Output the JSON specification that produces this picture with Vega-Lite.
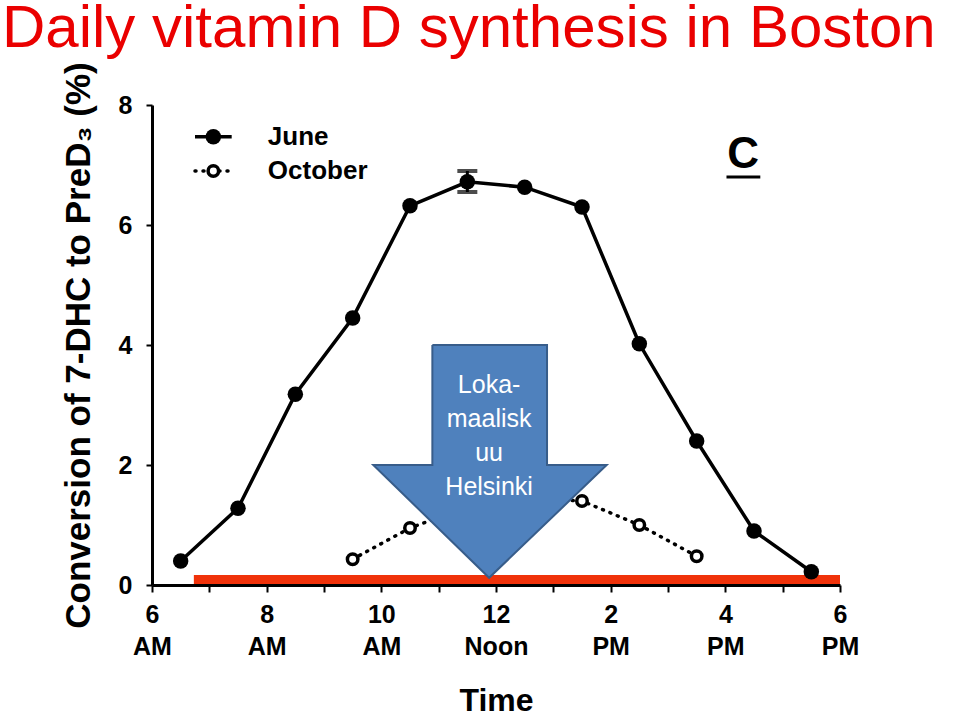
{
  "$schema": "https://vega.github.io/schema/vega-lite/v6.json",
  "width": 688,
  "height": 480,
  "autosize": "none",
  "padding": {"left": 152, "top": 105, "right": 120, "bottom": 133},
  "background": "white",
  "config": {"font": "Liberation Sans", "view": {"stroke": null}},
  "title": {
    "text": "Daily vitamin D synthesis in Boston",
    "anchor": "start",
    "frame": "group",
    "dx": -150,
    "dy": 19,
    "offset": 21,
    "font": "Liberation Sans",
    "fontSize": 60,
    "fontWeight": "normal",
    "color": "#EA0000"
  },
  "datasets": {
    "june": [
      {"x": 6.5, "y": 0.4}, {"x": 7.5, "y": 1.28}, {"x": 8.5, "y": 3.18}, {"x": 9.5, "y": 4.45},
      {"x": 10.5, "y": 6.32}, {"x": 11.5, "y": 6.72}, {"x": 12.5, "y": 6.63}, {"x": 13.5, "y": 6.3},
      {"x": 14.5, "y": 4.02}, {"x": 15.5, "y": 2.4}, {"x": 16.5, "y": 0.9}, {"x": 17.5, "y": 0.22}
    ],
    "october": [
      {"x": 9.5, "y": 0.43}, {"x": 10.5, "y": 0.95}, {"x": 11.5, "y": 1.3}, {"x": 12.5, "y": 1.45},
      {"x": 13.5, "y": 1.4}, {"x": 14.5, "y": 1.0}, {"x": 15.5, "y": 0.48}
    ],
    "errbar": [{"x": 11.5, "y": 6.55, "y2": 6.9}],
    "errcaps": [{"x": 11.5, "y": 6.55}, {"x": 11.5, "y": 6.9}],
    "redbar": [{"x": 6.73, "x2": 18.0, "y": 0.09}],
    "arrow": [
      {"i": 0, "x": 10.89, "y": 4.0}, {"i": 1, "x": 12.89, "y": 4.0}, {"i": 2, "x": 12.89, "y": 2.0},
      {"i": 3, "x": 13.93, "y": 2.0}, {"i": 4, "x": 11.88, "y": 0.12}, {"i": 5, "x": 9.86, "y": 2.0},
      {"i": 6, "x": 10.89, "y": 2.0}, {"i": 7, "x": 10.89, "y": 4.0}
    ],
    "arrowtext": [{"x": 11.88, "y": 3.33, "label": ["Loka-", "maalisk", "uu", "Helsinki"]}],
    "legline": [
      {"x": 6.75, "x2": 7.39, "y": 7.47, "series": "June"},
      {"x": 6.75, "x2": 7.39, "y": 6.9, "series": "October"}
    ],
    "legtext": [
      {"x": 8.02, "y": 7.47, "label": "June"},
      {"x": 8.02, "y": 6.9, "label": "October"}
    ],
    "panel": [{"x": 16.31, "y": 7.17, "label": "C"}],
    "underline": [{"x": 16.02, "x2": 16.61, "y": 6.8}]
  },
  "encoding": {
    "x": {
      "field": "x",
      "type": "quantitative",
      "scale": {"domain": [6, 18], "nice": false, "zero": false},
      "axis": {
        "title": "Time",
        "titleFontSize": 32,
        "titleFontWeight": "bold",
        "titleColor": "black",
        "titlePadding": 26,
        "values": [6, 7, 8, 9, 10, 11, 12, 13, 14, 15, 16, 17, 18],
        "labelExpr": "datum.value % 2 == 0 ? [datum.value <= 12 ? format(datum.value, 'd') : format(datum.value - 12, 'd'), datum.value < 12 ? 'AM' : (datum.value == 12 ? 'Noon' : 'PM')] : ''",
        "labelFontSize": 25,
        "labelFontWeight": "bold",
        "labelColor": "black",
        "labelLineHeight": 32,
        "labelPadding": 10,
        "labelOverlap": false,
        "labelFlush": false,
        "labelBound": false,
        "grid": false,
        "domainColor": "black",
        "domainWidth": 3,
        "tickColor": "black",
        "tickWidth": 2,
        "tickSize": 7
      }
    },
    "y": {
      "field": "y",
      "type": "quantitative",
      "scale": {"domain": [0, 8], "nice": false},
      "axis": {
        "title": "Conversion of 7-DHC to PreD₃ (%)",
        "titleFontSize": 35,
        "titleFontWeight": "bold",
        "titleColor": "black",
        "titlePadding": 22,
        "values": [0, 2, 4, 6, 8],
        "labelFontSize": 25,
        "labelFontWeight": "bold",
        "labelColor": "black",
        "labelPadding": 14,
        "grid": false,
        "domainColor": "black",
        "domainWidth": 3,
        "tickColor": "black",
        "tickWidth": 2,
        "tickSize": 6
      }
    }
  },
  "layer": [
    {
      "data": {"name": "june"},
      "mark": {"type": "line", "color": "black", "strokeWidth": 3.5},
      "encoding": {}
    },
    {
      "data": {"name": "october"},
      "mark": {"type": "line", "color": "black", "strokeWidth": 3.5, "strokeDash": [1, 7], "strokeCap": "round"},
      "encoding": {}
    },
    {
      "data": {"name": "redbar"},
      "mark": {"type": "rule", "color": "#F0320A", "strokeWidth": 9},
      "encoding": {"x2": {"field": "x2"}}
    },
    {
      "data": {"name": "errbar"},
      "mark": {"type": "rule", "color": "black", "strokeWidth": 3},
      "encoding": {"y2": {"field": "y2"}}
    },
    {
      "data": {"name": "errcaps"},
      "mark": {"type": "tick", "color": "black", "orient": "horizontal", "size": 20, "thickness": 4},
      "encoding": {}
    },
    {
      "data": {"name": "june"},
      "mark": {"type": "point", "shape": "circle", "filled": true, "color": "black", "size": 240, "opacity": 1},
      "encoding": {}
    },
    {
      "data": {"name": "october"},
      "mark": {"type": "point", "shape": "circle", "filled": false, "fill": "white", "stroke": "black", "strokeWidth": 3.5, "size": 110, "opacity": 1},
      "encoding": {}
    },
    {
      "data": {"name": "arrow"},
      "mark": {"type": "line", "fill": "#4F81BD", "stroke": "#385D8A", "strokeWidth": 2, "interpolate": "linear"},
      "encoding": {"order": {"field": "i", "type": "quantitative"}}
    },
    {
      "data": {"name": "arrowtext"},
      "mark": {"type": "text", "color": "white", "fontSize": 25, "lineHeight": 34, "align": "center", "baseline": "middle", "font": "Liberation Sans"},
      "encoding": {"text": {"field": "label"}}
    },
    {
      "data": {"name": "legline"},
      "transform": [{"filter": "datum.series == 'June'"}],
      "mark": {"type": "rule", "color": "black", "strokeWidth": 3.5},
      "encoding": {"x2": {"field": "x2"}}
    },
    {
      "data": {"name": "legline"},
      "transform": [{"filter": "datum.series == 'October'"}],
      "mark": {"type": "rule", "color": "black", "strokeWidth": 3.5, "strokeDash": [1, 7], "strokeCap": "round"},
      "encoding": {"x2": {"field": "x2"}}
    },
    {
      "data": {"name": "legline"},
      "transform": [{"filter": "datum.series == 'June'"}, {"calculate": "(datum.x + datum.x2) / 2", "as": "xm"}],
      "mark": {"type": "point", "shape": "circle", "filled": true, "color": "black", "size": 240, "opacity": 1},
      "encoding": {"x": {"field": "xm", "type": "quantitative"}}
    },
    {
      "data": {"name": "legline"},
      "transform": [{"filter": "datum.series == 'October'"}, {"calculate": "(datum.x + datum.x2) / 2", "as": "xm"}],
      "mark": {"type": "point", "shape": "circle", "filled": false, "fill": "white", "stroke": "black", "strokeWidth": 3.5, "size": 110, "opacity": 1},
      "encoding": {"x": {"field": "xm", "type": "quantitative"}}
    },
    {
      "data": {"name": "legtext"},
      "mark": {"type": "text", "color": "black", "fontSize": 26, "fontWeight": "bold", "align": "left", "baseline": "middle"},
      "encoding": {"text": {"field": "label"}}
    },
    {
      "data": {"name": "panel"},
      "mark": {"type": "text", "color": "black", "fontSize": 44, "fontWeight": "bold", "align": "center", "baseline": "middle"},
      "encoding": {"text": {"field": "label"}}
    },
    {
      "data": {"name": "underline"},
      "mark": {"type": "rule", "color": "black", "strokeWidth": 3},
      "encoding": {"x2": {"field": "x2"}}
    }
  ]
}
